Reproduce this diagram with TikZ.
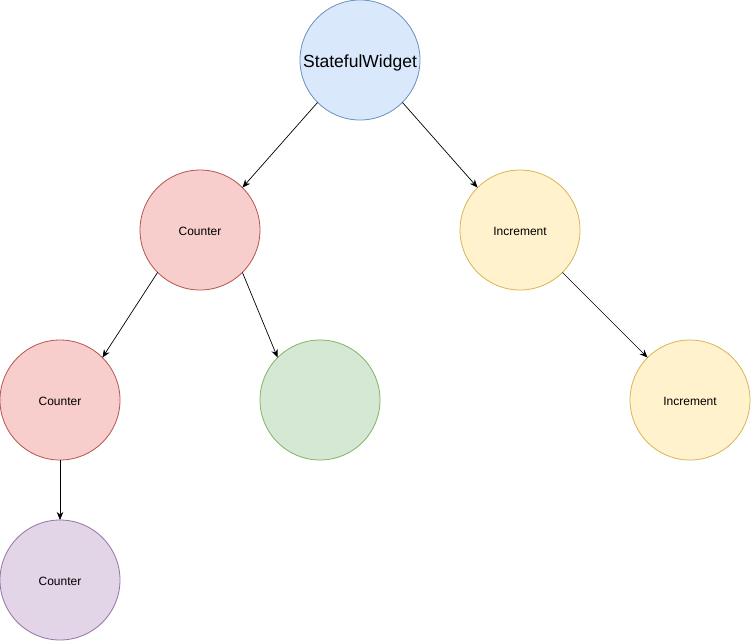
\documentclass[tikz,border=0pt]{standalone}
\usepackage{fontspec}
\setmainfont{Liberation Sans}
\usetikzlibrary{arrows.meta}
\definecolor{bluef}{HTML}{DAE8FC}\definecolor{blued}{HTML}{6C8EBF}
\definecolor{redf}{HTML}{F8CECC}\definecolor{redd}{HTML}{B85450}
\definecolor{yelf}{HTML}{FFF2CC}\definecolor{yeld}{HTML}{D6B656}
\definecolor{grnf}{HTML}{D5E8D4}\definecolor{grnd}{HTML}{82B366}
\definecolor{purf}{HTML}{E1D5E7}\definecolor{purd}{HTML}{9673A6}
\begin{document}
\begin{tikzpicture}[x=1pt,y=-1pt,
  circ/.style={circle,minimum size=120pt,inner sep=0pt,outer sep=0pt,line width=0.8pt,font=\fontsize{12}{14}\selectfont,text height=10.6pt,text depth=0pt},
  bluec/.style={circ,draw=blued,fill=bluef},
  redc/.style={circ,draw=redd,fill=redf},
  yelc/.style={circ,draw=yeld,fill=yelf},
  grnc/.style={circ,draw=grnd,fill=grnf},
  purc/.style={circ,draw=purd,fill=purf},
  arr/.style={line width=0.7pt,-{Stealth[length=8pt,width=6.5pt,inset=2.5pt]}}]
\useasboundingbox (0,0) rectangle (751,641);
\node[bluec,font=\fontsize{17.5}{20}\selectfont,text height=14.6pt] (sw) at (360,60) {StatefulWidget};
\node[redc] (c1) at (200,230) {Counter};
\node[yelc] (i1) at (520,230) {Increment};
\node[redc] (c2) at (60,400) {Counter};
\node[grnc] (g) at (320,400) {};
\node[yelc] (i2) at (690,400) {Increment};
\node[purc] (c3) at (60,580) {Counter};
\draw[arr] (sw.225) -- (c1.45);
\draw[arr] (sw.315) -- (i1.135);
\draw[arr] (c1.225) -- (c2.45);
\draw[arr] (c1.315) -- (g.135);
\draw[arr] (i1.315) -- (i2.135);
\draw[arr] (c2.south) -- (c3.north);
\end{tikzpicture}
\end{document}
